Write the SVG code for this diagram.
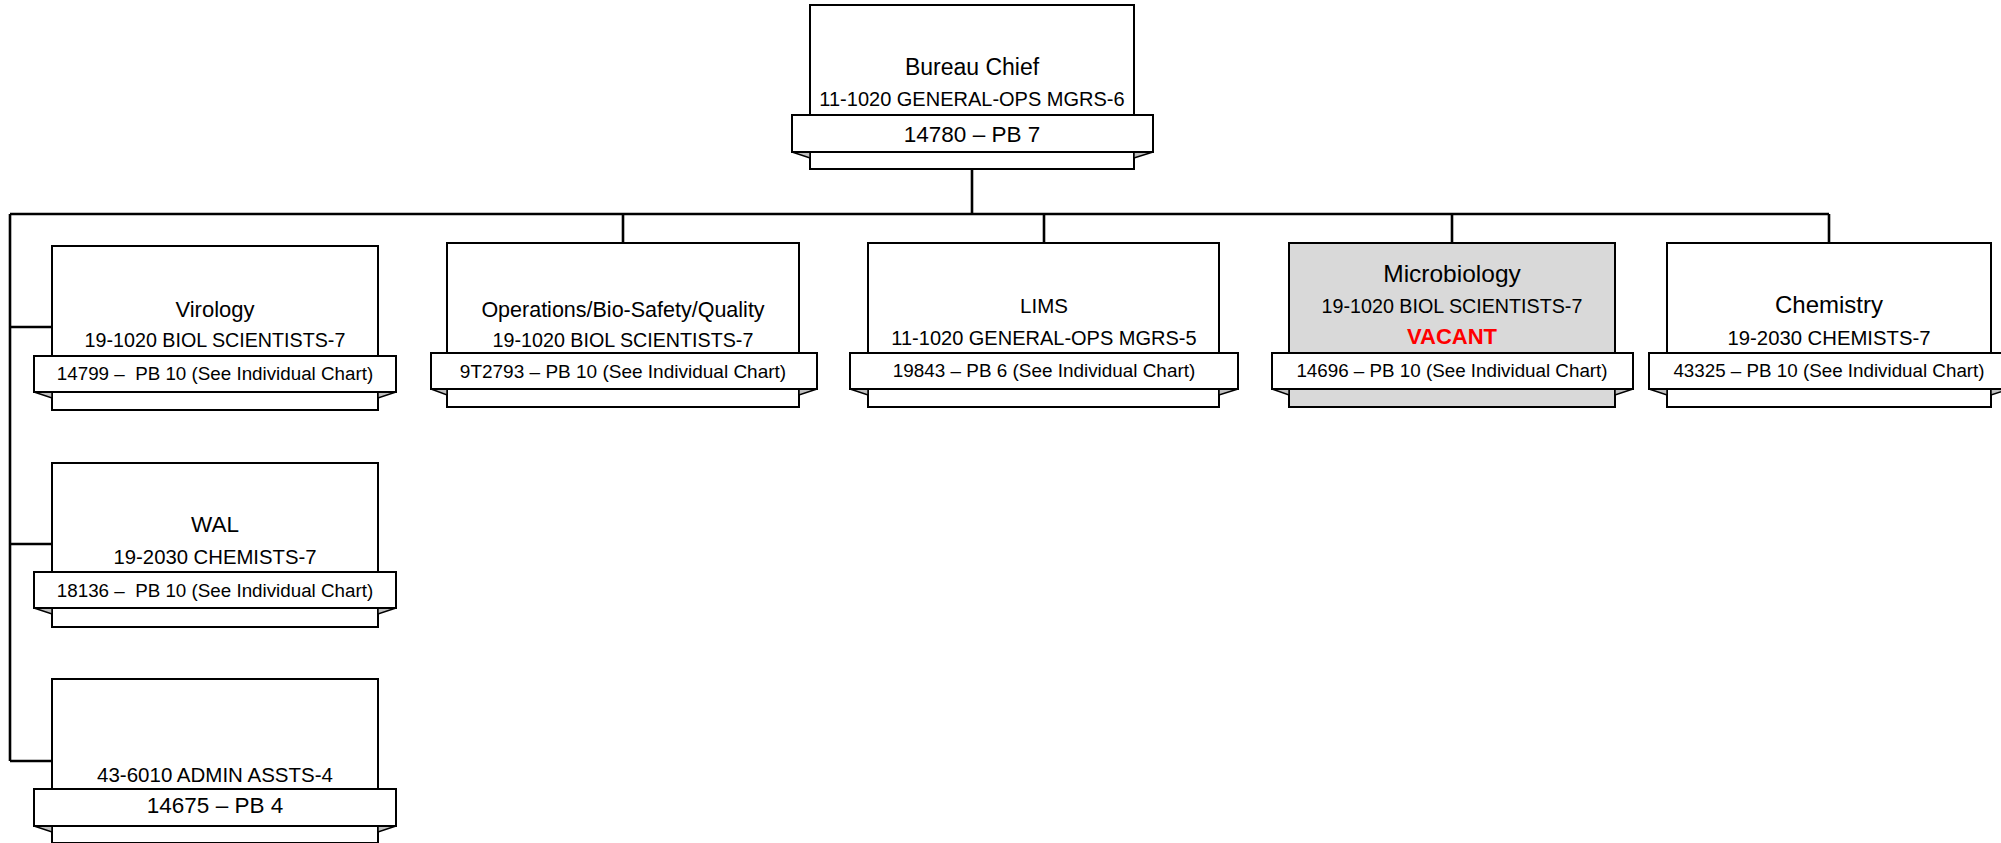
<svg xmlns="http://www.w3.org/2000/svg" width="2001" height="843" viewBox="0 0 2001 843">
<style>
  .box{fill:#ffffff;stroke:#000;stroke-width:2}
  .vac{fill:#d9d9d9;stroke:#000;stroke-width:2}
  .ban{fill:#ffffff;stroke:#000;stroke-width:2}
  .fold{fill:#c0c0c0;stroke:#000;stroke-width:1.5;stroke-linejoin:miter}
  .conn{fill:none;stroke:#000;stroke-width:2.6}
  text{font-family:"Liberation Sans",Arial,sans-serif;fill:#000;text-anchor:middle}
  .red{fill:#ff0000;font-weight:bold}
</style>
<g id="connectors">
  <path class="conn" d="M972,169 V214 M10,214 H1829 M10,214 V761 M10,327 H52 M10,544 H52 M10,761 H52 M623,214 V243 M1044,214 V243 M1452,214 V243 M1829,214 V243"/>
</g>
<g id="bureau-chief">
  <rect class="box" x="810" y="5" width="324" height="164"/>
  <polygon class="fold" points="792,152 810,152 810,158"/>
  <polygon class="fold" points="1153,152 1134,152 1134,158"/>
  <rect class="ban" x="792" y="115" width="361" height="37"/>
  <text x="972" y="75" font-size="23">Bureau Chief</text>
  <text x="972" y="106" font-size="20">11-1020 GENERAL-OPS MGRS-6</text>
  <text x="972" y="142" font-size="22.5">14780 – PB 7</text>
</g>
<g id="virology">
  <rect class="box" x="52" y="246" width="326" height="164"/>
  <polygon class="fold" points="34,392 52,392 52,398"/>
  <polygon class="fold" points="396,392 378,392 378,398"/>
  <rect class="ban" x="34" y="356" width="362" height="36"/>
  <text x="215" y="317" font-size="22">Virology</text>
  <text x="215" y="347" font-size="19.7">19-1020 BIOL SCIENTISTS-7</text>
  <text x="215" y="380" font-size="18.8" xml:space="preserve">14799 –  PB 10 (See Individual Chart)</text>
</g>
<g id="operations">
  <rect class="box" x="447" y="243" width="352" height="164"/>
  <polygon class="fold" points="431,389 447,389 447,395"/>
  <polygon class="fold" points="817,389 799,389 799,395"/>
  <rect class="ban" x="431" y="353" width="386" height="36"/>
  <text x="623" y="317" font-size="21.5">Operations/Bio-Safety/Quality</text>
  <text x="623" y="347" font-size="19.7">19-1020 BIOL SCIENTISTS-7</text>
  <text x="623" y="378" font-size="19">9T2793 – PB 10 (See Individual Chart)</text>
</g>
<g id="lims">
  <rect class="box" x="868" y="243" width="351" height="164"/>
  <polygon class="fold" points="850,389 868,389 868,395"/>
  <polygon class="fold" points="1238,389 1219,389 1219,395"/>
  <rect class="ban" x="850" y="353" width="388" height="36"/>
  <text x="1044" y="313" font-size="20.5">LIMS</text>
  <text x="1044" y="345" font-size="20">11-1020 GENERAL-OPS MGRS-5</text>
  <text x="1044" y="377" font-size="18.9">19843 – PB 6 (See Individual Chart)</text>
</g>
<g id="microbiology">
  <rect class="vac" x="1289" y="243" width="326" height="164"/>
  <polygon class="fold" points="1272,389 1289,389 1289,395"/>
  <polygon class="fold" points="1633,389 1615,389 1615,395"/>
  <rect class="ban" x="1272" y="353" width="361" height="36"/>
  <text x="1452" y="282" font-size="24.5">Microbiology</text>
  <text x="1452" y="313" font-size="19.7">19-1020 BIOL SCIENTISTS-7</text>
  <text class="red" x="1452" y="344" font-size="22">VACANT</text>
  <text x="1452" y="377" font-size="18.8">14696 – PB 10 (See Individual Chart)</text>
</g>
<g id="chemistry">
  <rect class="box" x="1667" y="243" width="324" height="164"/>
  <polygon class="fold" points="1649,389 1667,389 1667,395"/>
  <polygon class="fold" points="2009,389 1991,389 1991,395"/>
  <rect class="ban" x="1649" y="353" width="360" height="36"/>
  <text x="1829" y="313" font-size="24">Chemistry</text>
  <text x="1829" y="345" font-size="20.3">19-2030 CHEMISTS-7</text>
  <text x="1829" y="377" font-size="18.8">43325 – PB 10 (See Individual Chart)</text>
</g>
<g id="wal">
  <rect class="box" x="52" y="463" width="326" height="164"/>
  <polygon class="fold" points="34,608 52,608 52,614"/>
  <polygon class="fold" points="396,608 378,608 378,614"/>
  <rect class="ban" x="34" y="572" width="362" height="36"/>
  <text x="215" y="532" font-size="22.5">WAL</text>
  <text x="215" y="564" font-size="20.3">19-2030 CHEMISTS-7</text>
  <text x="215" y="597" font-size="18.8" xml:space="preserve">18136 –  PB 10 (See Individual Chart)</text>
</g>
<g id="admin">
  <rect class="box" x="52" y="679" width="326" height="164"/>
  <polygon class="fold" points="34,826 52,826 52,832"/>
  <polygon class="fold" points="396,826 378,826 378,832"/>
  <rect class="ban" x="34" y="789" width="362" height="37"/>
  <text x="215" y="782" font-size="20.5">43-6010 ADMIN ASSTS-4</text>
  <text x="215" y="813" font-size="22.5">14675 – PB 4</text>
</g>
</svg>
